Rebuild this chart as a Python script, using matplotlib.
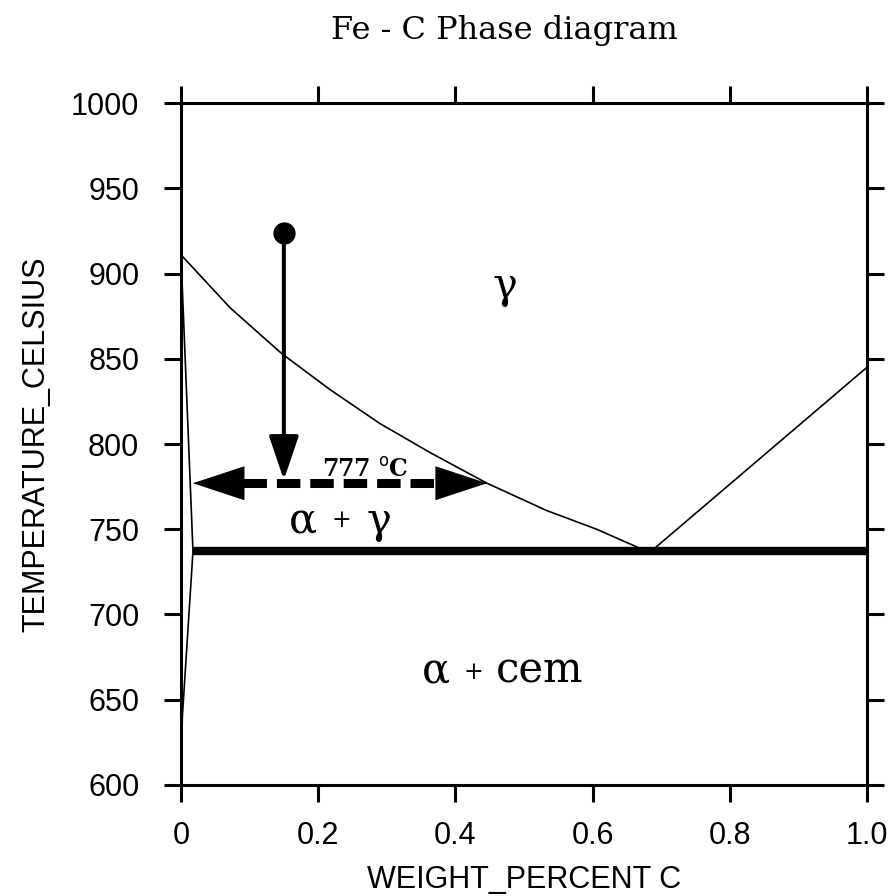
import matplotlib
matplotlib.use("Agg")
import matplotlib.pyplot as plt

# phase boundaries (wt% C, deg C)
a3_x = [0.0, 0.0714, 0.147, 0.217, 0.29, 0.363, 0.446, 0.533, 0.606, 0.668]
a3_T = [911, 880, 853, 832, 812, 795, 777, 761, 750, 739]

acm_x = [0.688, 1.0]
acm_T = [738, 845]

alpha_x = [0.0, 0.0175, 0.002, 0.0]
alpha_T = [911, 737, 640, 600]

eut_x = [0.0175, 1.0]
eut_T = [737, 737]

# cooling path and the 777 C tie line
start_x, start_T = 0.15, 924
stop_T = 779
tie_x = [0.0175, 0.446]
tie_T = 777

xticks = [0, 0.2, 0.4, 0.6, 0.8, 1.0]
xlabels = ["0", "0.2", "0.4", "0.6", "0.8", "1.0"]
yticks = [600, 650, 700, 750, 800, 850, 900, 950, 1000]

fig = plt.figure(figsize=(8.95, 8.96), dpi=100)
ax = fig.add_axes([0.2022, 0.1239, 0.7665, 0.7611])

ax.plot(a3_x, a3_T, color="black", lw=1.2)
ax.plot(acm_x, acm_T, color="black", lw=1.2)
ax.plot(alpha_x, alpha_T, color="black", lw=1.2)
ax.plot(eut_x, eut_T, color="black", lw=6, solid_capstyle="butt")

# falling arrow from the starting point
ax.plot([start_x], [start_T], "o", color="black", ms=15)
ax.annotate("", xy=(start_x, stop_T), xytext=(start_x, start_T),
            arrowprops=dict(arrowstyle="-|>,head_length=1.0,head_width=0.34",
                            mutation_scale=27, lw=2.9, color="black",
                            shrinkA=0, shrinkB=0))

# dashed double arrow
ax.plot([0.09, 0.373], [tie_T, tie_T], color="black", lw=6.5, dashes=(2.6, 1.1))
ax.annotate("", xy=(tie_x[0], tie_T), xytext=(0.09, tie_T),
            arrowprops=dict(arrowstyle="-|>,head_length=1.0,head_width=0.33",
                            mutation_scale=36, lw=0.5, color="black",
                            shrinkA=0, shrinkB=0))
ax.annotate("", xy=(tie_x[1], tie_T), xytext=(0.373, tie_T),
            arrowprops=dict(arrowstyle="-|>,head_length=1.0,head_width=0.33",
                            mutation_scale=36, lw=0.5, color="black",
                            shrinkA=0, shrinkB=0))

serif = "DejaVu Serif"
ax.text(0.268, 781, "777 $^{\\rm o}$C", family=serif, fontsize=17, fontweight="bold",
        ha="center", va="baseline")

# region labels
ax.text(0.472, 885.5, "γ", family=serif, fontsize=30, ha="center", va="baseline")

ax.text(0.178, 748, "α", family=serif, fontsize=30, ha="center", va="baseline")
ax.text(0.234, 755, "+", family=serif, fontsize=17, ha="center", va="center")
ax.text(0.289, 748, "γ", family=serif, fontsize=30, ha="center", va="baseline")

ax.text(0.372, 660, "α", family=serif, fontsize=30, ha="center", va="baseline")
ax.text(0.426, 665.7, "+", family=serif, fontsize=17, ha="center", va="center")
ax.text(0.5226, 660, "cem", family=serif, fontsize=30, ha="center", va="baseline")

fig.text(0.564, 0.966, "Fe - C Phase diagram", family=serif, fontsize=23,
         ha="center", va="center")

ax.set_xlim(0, 1.0)
ax.set_ylim(600, 1000)
ax.set_xticks(xticks)
ax.set_xticklabels(xlabels)
ax.set_yticks(yticks)

for s in ax.spines.values():
    s.set_linewidth(2.2)
ax.tick_params(which="both", direction="out", length=12, width=2.2,
               top=True, right=True, labelsize=22, pad=14)
ax.tick_params(axis="y", pad=18)
for lab in ax.get_xticklabels() + ax.get_yticklabels():
    lab.set_family("Liberation Sans")

ax.set_xlabel("WEIGHT_PERCENT C", family="Liberation Sans", fontsize=22, labelpad=10)
ax.set_ylabel("TEMPERATURE_CELSIUS", family="Liberation Sans", fontsize=22, labelpad=14)

fig.savefig("out.png", dpi=100)
